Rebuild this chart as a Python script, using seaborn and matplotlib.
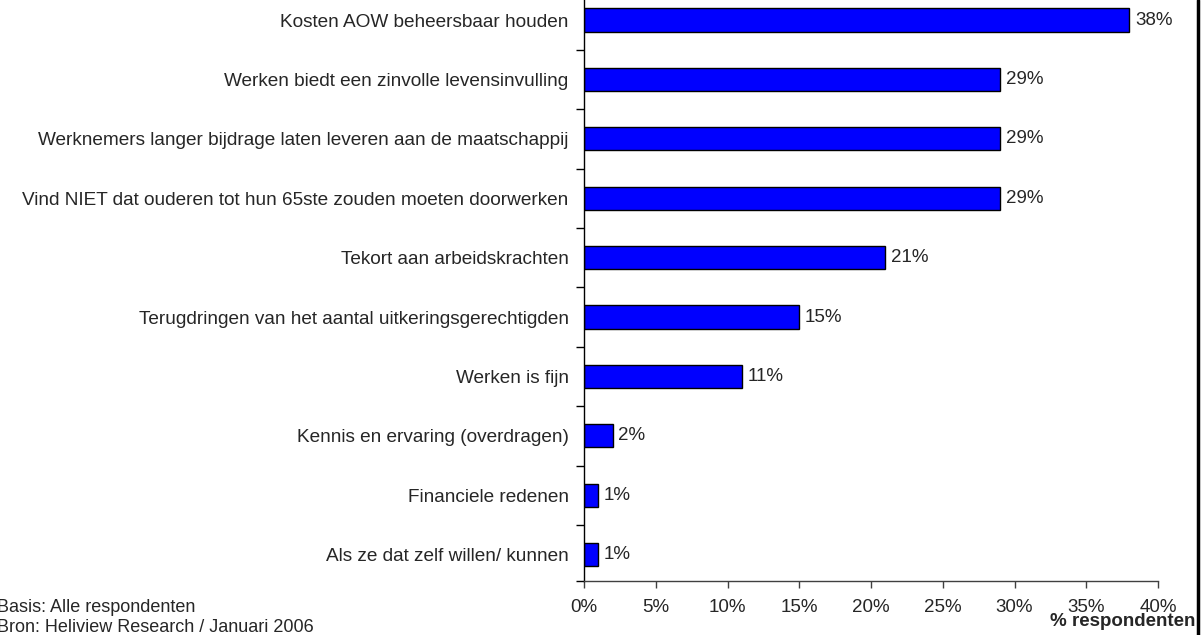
import matplotlib
matplotlib.use("Agg")
import matplotlib.pyplot as plt
import seaborn as sns
import pandas as pd
from matplotlib.ticker import FuncFormatter, FixedLocator
from matplotlib.lines import Line2D

categories = [
    "Kosten AOW beheersbaar houden",
    "Werken biedt een zinvolle levensinvulling",
    "Werknemers langer bijdrage laten leveren aan de maatschappij",
    "Vind NIET dat ouderen tot hun 65ste zouden moeten doorwerken",
    "Tekort aan arbeidskrachten",
    "Terugdringen van het aantal uitkeringsgerechtigden",
    "Werken is fijn",
    "Kennis en ervaring (overdragen)",
    "Financiele redenen",
    "Als ze dat zelf willen/ kunnen",
]
values = [38, 29, 29, 29, 21, 15, 11, 2, 1, 1]
xticks = [0, 5, 10, 15, 20, 25, 30, 35, 40]

sns.set_style("white")
plt.rcParams["font.family"] = ["Liberation Sans", "DejaVu Sans"]

df = pd.DataFrame({"reden": categories, "pct": values})

fig = plt.figure(figsize=(12.01, 6.35), dpi=100)
ax = fig.add_axes([584 / 1201, (635 - 581) / 635, 574 / 1201, 594 / 635])

sns.barplot(data=df, x="pct", y="reden", orient="h", color="#0000FF",
            saturation=1, edgecolor="black", linewidth=1.0, width=0.39, ax=ax)

n = len(categories)
y_bottom = n - 0.556
ax.set_xlim(0, 40)
ax.set_ylim(y_bottom, -0.556)
ax.xaxis.set_major_locator(FixedLocator(xticks))
ax.xaxis.set_major_formatter(FuncFormatter(lambda v, p: f"{v:.0f}%"))
ax.set_xlabel("")
ax.set_ylabel("")

# category labels sit between ticks placed on the slot boundaries
ax.set_yticks(range(n))
ax.set_yticklabels(categories, fontsize=13.7)
ax.tick_params(axis="y", which="major", left=False, length=0, pad=11)
ax.set_yticks([i + 0.5 for i in range(n - 1)] + [y_bottom], minor=True)
ax.tick_params(axis="y", which="minor", left=True, length=6, width=1,
               direction="out", color="black")
ax.tick_params(axis="x", bottom=True, length=5, width=1, direction="out",
               color="#404040", labelsize=13.5, pad=8)

for side in ["top", "right"]:
    ax.spines[side].set_visible(False)
ax.spines["left"].set_color("black")
ax.spines["bottom"].set_color("#404040")
ax.spines["left"].set_linewidth(1)
ax.spines["bottom"].set_linewidth(1)

for i, v in enumerate(values):
    ax.annotate(f"{v}%", xy=(v, i), xytext=(4, 0), textcoords="offset points",
                ha="left", va="center", fontsize=13.5)

fig.text(1195 / 1201, 1 - 622 / 635, "% respondenten", ha="right", va="center",
         fontsize=13.5, fontweight="bold")
fig.text(-3 / 1201, 1 - 607 / 635, "Basis: Alle respondenten", ha="left",
         va="center", fontsize=13)
fig.text(-3 / 1201, 1 - 628 / 635, "Bron: Heliview Research / Januari 2006", ha="left",
         va="center", fontsize=13)

fig.add_artist(Line2D([1198 / 1201, 1198 / 1201], [0, 1], transform=fig.transFigure,
                      color="black", linewidth=2.5))

fig.savefig("out.png", dpi=100)
